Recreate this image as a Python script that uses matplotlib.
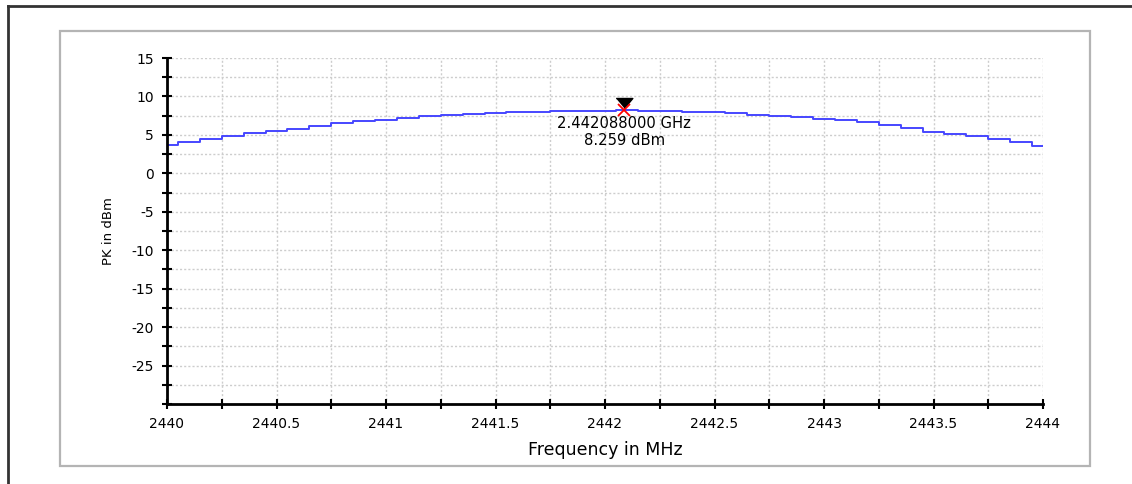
import numpy as np
import matplotlib.pyplot as plt
from matplotlib.lines import Line2D
from matplotlib.patches import Rectangle

plt.rcParams['font.family'] = ['DejaVu Sans']

# Trace (MHz, dBm)
freq_mhz = [2440.0, 2440.1, 2440.2, 2440.3, 2440.4, 2440.5, 2440.6, 2440.7, 2440.8, 2440.9,
            2441.0, 2441.1, 2441.2, 2441.3, 2441.4, 2441.5, 2441.6, 2441.7, 2441.8, 2441.9,
            2442.0, 2442.1, 2442.2, 2442.3, 2442.4, 2442.5, 2442.6, 2442.7, 2442.8, 2442.9,
            2443.0, 2443.1, 2443.2, 2443.3, 2443.4, 2443.5, 2443.6, 2443.7, 2443.8, 2443.9,
            2444.0]
level_dbm = [3.7, 4.1, 4.5, 4.9, 5.2, 5.5, 5.8, 6.2, 6.5, 6.8,
             7.0, 7.2, 7.4, 7.6, 7.7, 7.9, 8.0, 8.0, 8.1, 8.1,
             8.1, 8.26, 8.1, 8.1, 8.0, 8.0, 7.8, 7.6, 7.5, 7.3,
             7.1, 6.9, 6.7, 6.3, 5.9, 5.4, 5.1, 4.8, 4.5, 4.1,
             3.5]

peak_mhz = 2442.088
peak_dbm = 8.259

x_ticks = [2440 + 0.25 * i for i in range(17)]
x_labels = ['2440', '', '2440.5', '', '2441', '', '2441.5', '', '2442', '',
            '2442.5', '', '2443', '', '2443.5', '', '2444']
y_ticks = [-30 + 2.5 * i for i in range(19)]
y_labels = ['', '', '-25', '', '-20', '', '-15', '', '-10', '', '-5', '',
            '0', '', '5', '', '10', '', '15']

W, H = 1132, 484
fig = plt.figure(figsize=(W / 100, H / 100), dpi=100)

# outer frame (only left and top edges visible)
fig.add_artist(Line2D([8 / W, 8 / W], [0, 1 - 6 / H], color='#333333', lw=2, zorder=-2))
fig.add_artist(Line2D([8 / W, 1], [1 - 6 / H, 1 - 6 / H], color='#333333', lw=2, zorder=-2))
# inner gray panel
fig.add_artist(Rectangle((60 / W, 1 - 466 / H), 1030 / W, 435 / H,
                         facecolor='white', edgecolor='#b4b4b4', lw=1.6, zorder=-1))

ax = fig.add_axes([167 / W, 1 - 404 / H, 876 / W, 346 / H])
ax.set_facecolor('none')
ax.step(freq_mhz, level_dbm, where='mid', color='#4646ff', lw=1.4)

ax.plot([peak_mhz], [peak_dbm + 0.95], marker=[(-1, 0.6), (1, 0.6), (0, -0.6)],
        ms=12, color='black', ls='none')
ax.plot([peak_mhz], [peak_dbm], marker='x', ms=8, mew=1.3, color='red', ls='none')
ax.annotate(f'{peak_mhz / 1000:.9f} GHz', (peak_mhz, peak_dbm), xytext=(0, -9.5),
            textcoords='offset points', ha='center', va='center', fontsize=10.6)
ax.annotate(f'{peak_dbm:.3f} dBm', (peak_mhz, peak_dbm), xytext=(0, -22),
            textcoords='offset points', ha='center', va='center', fontsize=10.6)

ax.set_xlim(2440, 2444)
ax.set_ylim(-30, 15)
ax.set_xticks(x_ticks)
ax.set_xticklabels(x_labels)
ax.set_yticks(y_ticks)
ax.set_yticklabels(y_labels)
ax.tick_params(direction='inout', length=7, width=1.5, labelsize=10, pad=6)
ax.grid(True, color='#cdcdcd', ls=(0, (1.5, 1.5)), lw=1.0)

for side in ['top', 'right']:
    ax.spines[side].set_visible(False)
for side in ['left', 'bottom']:
    ax.spines[side].set_linewidth(2)

ax.set_xlabel('Frequency in MHz', fontsize=12.5, labelpad=7)
ax.set_ylabel('PK in dBm', fontsize=9.5, labelpad=12)

fig.savefig('out.png', dpi=100)
